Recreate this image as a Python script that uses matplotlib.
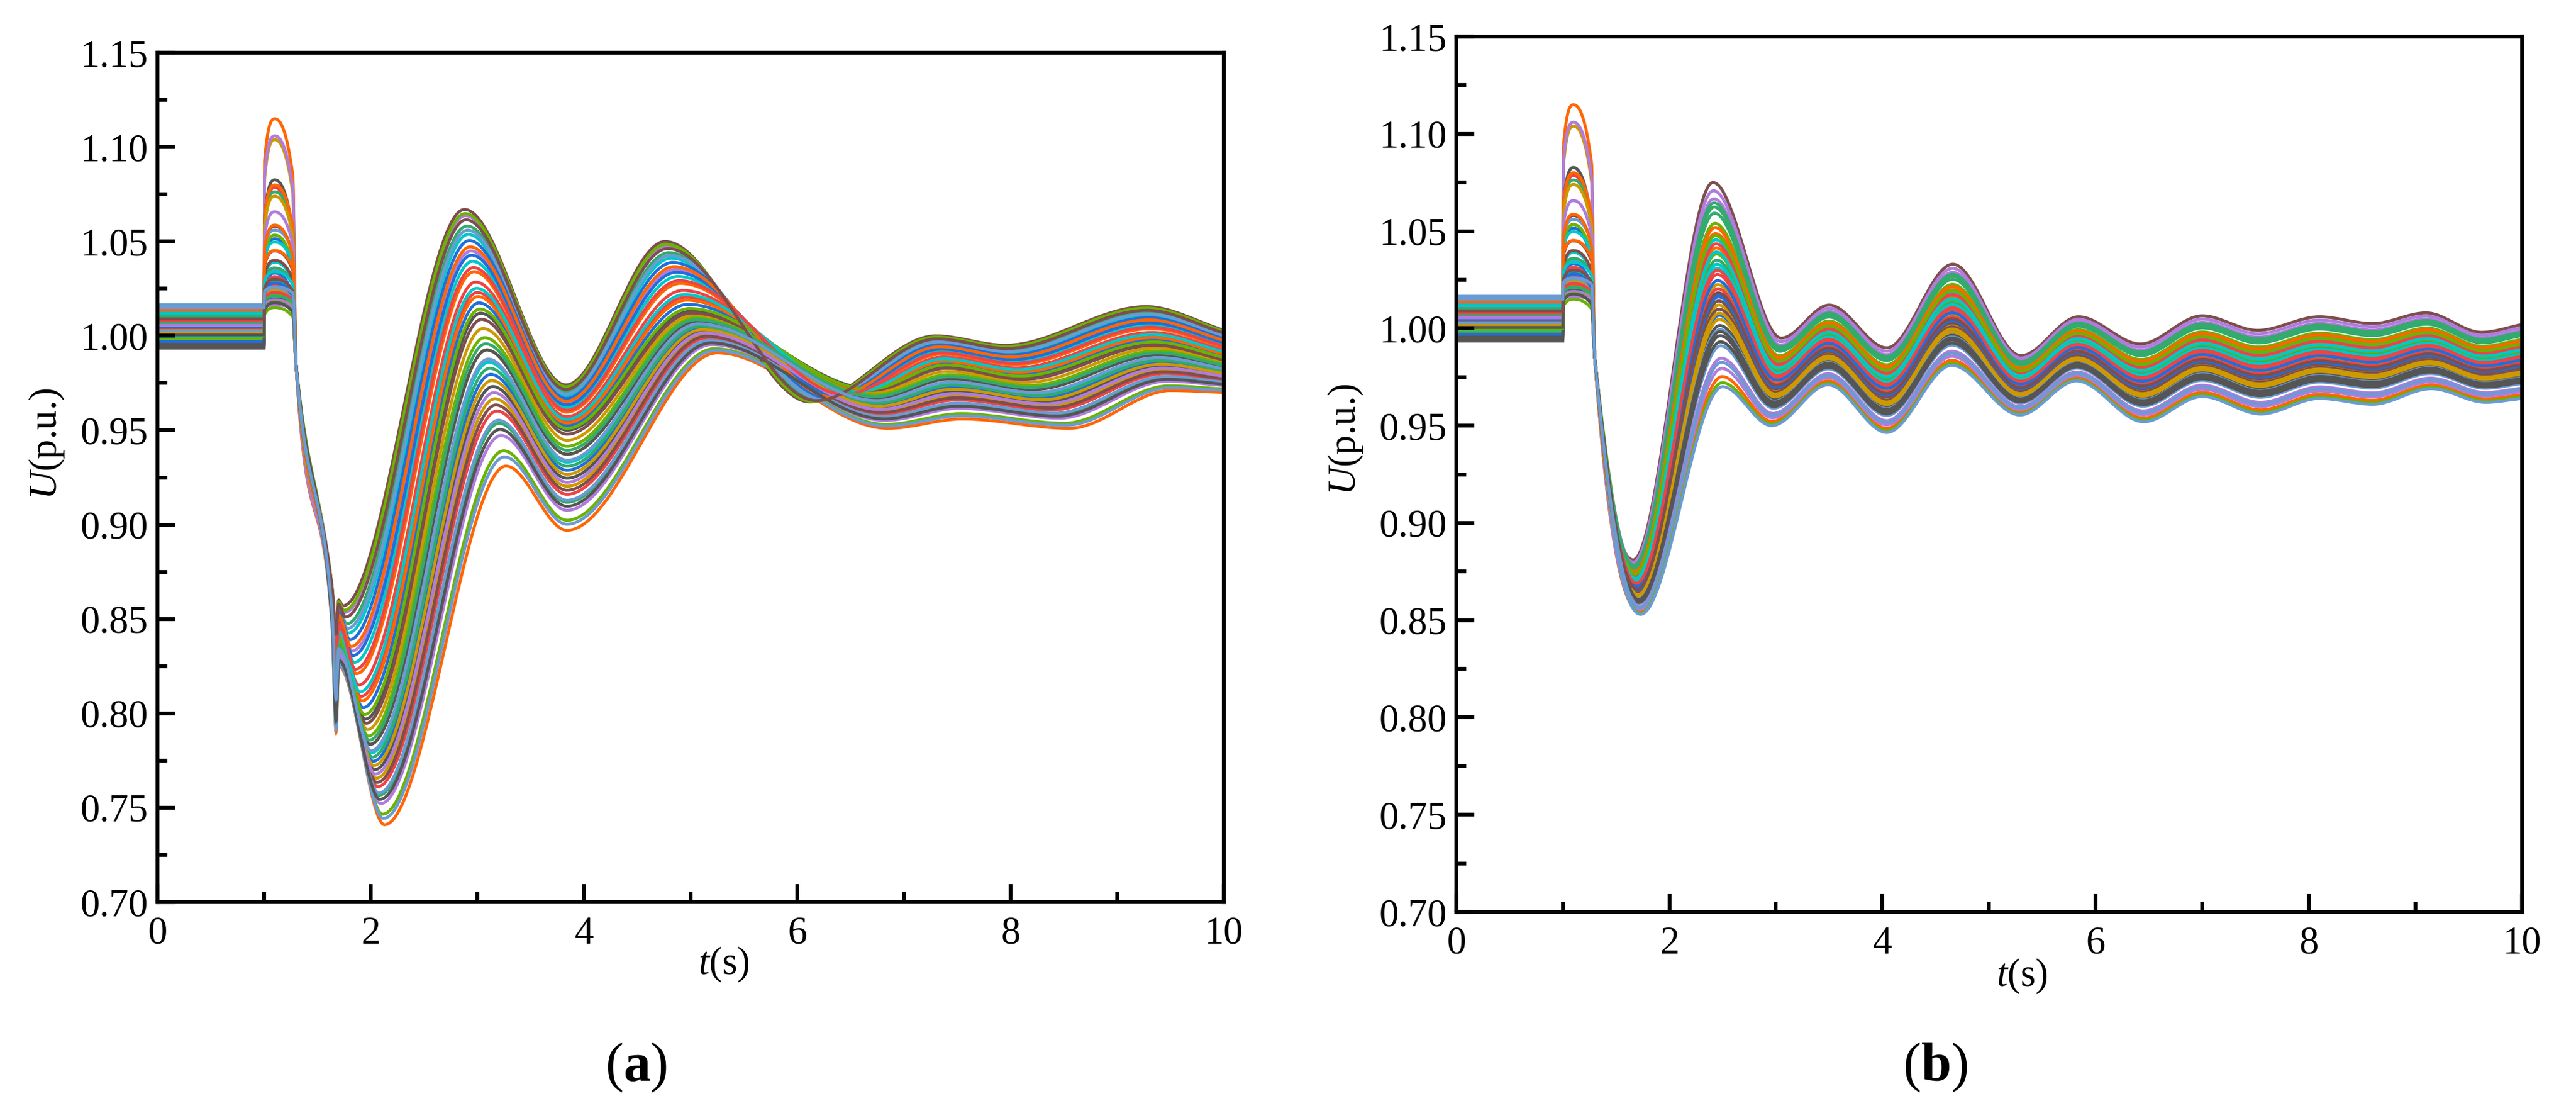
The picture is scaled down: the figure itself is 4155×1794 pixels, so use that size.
import numpy as np
import matplotlib
matplotlib.use("Agg")
import matplotlib.pyplot as plt
from matplotlib.path import Path
from matplotlib.patches import PathPatch
from matplotlib.ticker import MultipleLocator, FormatStrFormatter

plt.rcParams["font.family"] = ["Liberation Serif", "DejaVu Serif"]
plt.rcParams["mathtext.fontset"] = "custom"
plt.rcParams["mathtext.rm"] = "Liberation Serif"
plt.rcParams["mathtext.it"] = "Liberation Serif:italic"
plt.rcParams["mathtext.bf"] = "Liberation Serif:bold"

# line colours, one per simulated bus
colors = ["#1F6FDB", "#FF6600", "#CC9900", "#B07CDC", "#6BB300", "#00C8C8",
          "#EE4444", "#33AA6E", "#555555", "#7E4E4E", "#6B9BD2"] * 4

# pre-fault voltage (same in both cases)
u_pre = [0.9975, 1.0145, 1.0088, 1.0130, 1.0005, 1.0112, 0.9960, 1.0120, 0.9935, 1.0095, 1.0165,
         0.9950, 1.0060, 1.0030, 1.0080, 0.9985, 1.0040, 0.9965, 1.0020, 0.9942, 1.0100, 1.0070,
         0.9970, 1.0035, 1.0010, 1.0108, 0.9990, 0.9995, 1.0075, 1.0065, 0.9955, 1.0050, 1.0025,
         1.0045, 1.0140, 1.0015, 1.0055, 1.0000, 1.0118, 1.0085, 1.0102, 1.0005, 1.0090, 1.0150]

# overvoltage peak at t = 1.1 s (same in both cases)
u_peak = [1.0515, 1.1150, 1.1040, 1.1060, 1.0534, 1.0497, 1.0786, 1.0763, 1.0827, 1.0580, 1.0560,
          1.0333, 1.0800, 1.0740, 1.0657, 1.0150, 1.0390, 1.0314, 1.0290, 1.0238, 1.0450, 1.0353,
          1.0208, 1.0587, 1.0264, 1.0163, 1.0220, 1.0300, 1.0270, 1.0360, 1.0200, 1.0400, 1.0250,
          1.0280, 1.0452, 1.0240, 1.0190, 1.0180, 1.0340, 1.0230, 1.0210, 1.0176, 1.0300, 1.0260]

# position of each curve inside the bundle of case (a): 0 = fast/high, 1 = slow/low
pos_a = [0.45, 1.00, 0.62, 0.90, 0.95, 0.12, 0.40, 0.08, 0.50, 0.00, 0.97,
         0.70, 0.30, 0.55, 0.03, 0.02, 0.66, 0.82, 0.86, 0.74, 0.52, 0.10,
         0.15, 0.42, 0.78, 0.20, 0.58, 0.25, 0.35, 0.68, 0.62, 0.80, 0.85,
         0.22, 0.18, 0.72, 0.76, 0.48, 0.38, 0.28, 0.60, 0.88, 0.05, 0.65]

# position of each curve inside the bundle of case (b): 0 = bottom, 1 = top
pos_b = [0.45, 0.05, 0.40, 0.09, 0.02, 0.72, 0.55, 0.88, 0.30, 1.00, 0.00,
         0.35, 0.68, 0.50, 0.96, 0.80, 0.58, 0.48, 0.62, 0.25, 0.42, 0.20,
         0.52, 0.75, 0.33, 0.92, 0.65, 0.60, 0.70, 0.85, 0.22, 0.38, 0.28,
         0.44, 0.78, 0.36, 0.14, 0.74, 0.66, 0.57, 0.90, 0.27, 0.46, 0.12]

# case (a): extrema after the fault for the fast, middle and slow curves
ref_pos_a = [0.0, 0.5, 1.0]
ref_t_a = [[1.64, 1.675, 1.70, 1.74, 2.88, 3.83, 4.76, 6.12, 7.30, 7.95, 9.27, 10.0],
           [1.64, 1.675, 1.70, 1.95, 3.03, 3.84, 5.00, 6.70, 7.40, 8.10, 9.35, 10.0],
           [1.64, 1.675, 1.70, 2.13, 3.27, 3.84, 5.25, 6.85, 7.55, 8.55, 9.50, 10.0]]
ref_u_a = [[0.866, 0.845, 0.860, 0.857, 1.067, 0.974, 1.050, 0.965, 1.000, 0.995, 1.0155, 1.003],
           [0.855, 0.815, 0.838, 0.797, 1.012, 0.950, 1.013, 0.972, 0.984, 0.978, 0.996, 0.988],
           [0.845, 0.790, 0.825, 0.741, 0.931, 0.897, 0.991, 0.951, 0.956, 0.951, 0.971, 0.970]]

# case (b): extrema after the fault for the lowest and highest curves
ref_pos_b = [0.0, 1.0]
ref_t_b = [[1.73, 2.50, 2.96, 3.49, 4.04, 4.65, 5.29, 5.82, 6.45, 7.00, 7.55, 8.10, 8.60, 9.15, 9.66, 10.0],
           [1.66, 2.41, 3.05, 3.50, 4.04, 4.66, 5.30, 5.84, 6.42, 7.00, 7.52, 8.10, 8.60, 9.10, 9.62, 10.0]]
ref_u_b = [[0.853, 0.970, 0.950, 0.971, 0.9465, 0.981, 0.9555, 0.973, 0.952, 0.965, 0.956, 0.964, 0.961, 0.969, 0.962, 0.964],
           [0.881, 1.075, 0.995, 1.012, 0.990, 1.033, 0.986, 1.006, 0.992, 1.0065, 0.999, 1.006, 1.0025, 1.008, 0.998, 1.002]]


def slopes(ts, us):
    # monotone cubic tangents, flat at every extremum
    h = np.diff(ts)
    d = np.diff(us) / h
    m = np.zeros(len(ts))
    for k in range(1, len(ts) - 1):
        if d[k - 1] * d[k] > 0:
            w1 = 2 * h[k] + h[k - 1]
            w2 = h[k] + 2 * h[k - 1]
            m[k] = (w1 + w2) / (w1 / d[k - 1] + w2 / d[k])
    m[-1] = d[-1]
    return m


def curve_path(ts, us):
    m = slopes(ts, us)
    verts = [(ts[0], us[0])]
    codes = [Path.MOVETO]
    for k in range(len(ts) - 1):
        h = ts[k + 1] - ts[k]
        verts += [(ts[k] + h / 3, us[k] + m[k] * h / 3),
                  (ts[k + 1] - h / 3, us[k + 1] - m[k + 1] * h / 3),
                  (ts[k + 1], us[k + 1])]
        codes += [Path.CURVE4] * 3
    return Path(verts, codes)


def keypoints(v0, pk, s, ref_pos, ref_t, ref_u):
    ts = [0.0, 1.0, 1.005, 1.1, 1.27, 1.30]
    us = [v0, v0, v0 + 0.78 * (pk - v0), pk, v0 + 0.70 * (pk - v0), 0.985]
    for k in range(len(ref_t[0])):
        ts.append(np.interp(s, ref_pos, [r[k] for r in ref_t]))
        us.append(np.interp(s, ref_pos, [r[k] for r in ref_u]))
    return np.array(ts), np.array(us)


def setup(ax):
    ax.set_xlim(0, 10)
    ax.set_ylim(0.70, 1.15)
    ax.xaxis.set_major_locator(MultipleLocator(2))
    ax.xaxis.set_minor_locator(MultipleLocator(1))
    ax.yaxis.set_major_locator(MultipleLocator(0.05))
    ax.yaxis.set_minor_locator(MultipleLocator(0.025))
    ax.yaxis.set_major_formatter(FormatStrFormatter("%.2f"))
    ax.tick_params(which="both", direction="in", top=False, right=False, width=1.5, labelsize=15)
    ax.tick_params(which="major", length=7)
    ax.tick_params(which="minor", length=3.9)
    ax.tick_params(axis="y", pad=3.5)
    ax.tick_params(axis="x", pad=5.5)
    for sp in ax.spines.values():
        sp.set_linewidth(1.5)
    ax.text(0.531, -0.0738, "$t$(s)", transform=ax.transAxes, ha="center", va="center", fontsize=15)
    ax.text(-0.1035, 0.54, "$U$(p.u.)", transform=ax.transAxes, ha="center", va="center",
            rotation=90, fontsize=15)


fig = plt.figure(figsize=(4155 / 300, 1794 / 300), dpi=300)
ax_a = fig.add_axes([0.0611, 0.1895, 0.4140, 0.7631])
ax_b = fig.add_axes([0.5653, 0.1806, 0.4137, 0.7865])

for i in range(len(colors)):
    ts, us = keypoints(u_pre[i], u_peak[i], pos_a[i], ref_pos_a, ref_t_a, ref_u_a)
    ax_a.add_patch(PathPatch(curve_path(ts, us), fill=False, edgecolor=colors[i], lw=1.15))
    ts, us = keypoints(u_pre[i], u_peak[i], pos_b[i], ref_pos_b, ref_t_b, ref_u_b)
    ax_b.add_patch(PathPatch(curve_path(ts, us), fill=False, edgecolor=colors[i], lw=1.15))

setup(ax_a)
setup(ax_b)

fig.text(0.2470, 0.0412, "($\\mathbf{a}$)", ha="center", va="center", fontsize=21)
fig.text(0.7512, 0.0412, "($\\mathbf{b}$)", ha="center", va="center", fontsize=21)

fig.savefig("out.png", dpi=300)
